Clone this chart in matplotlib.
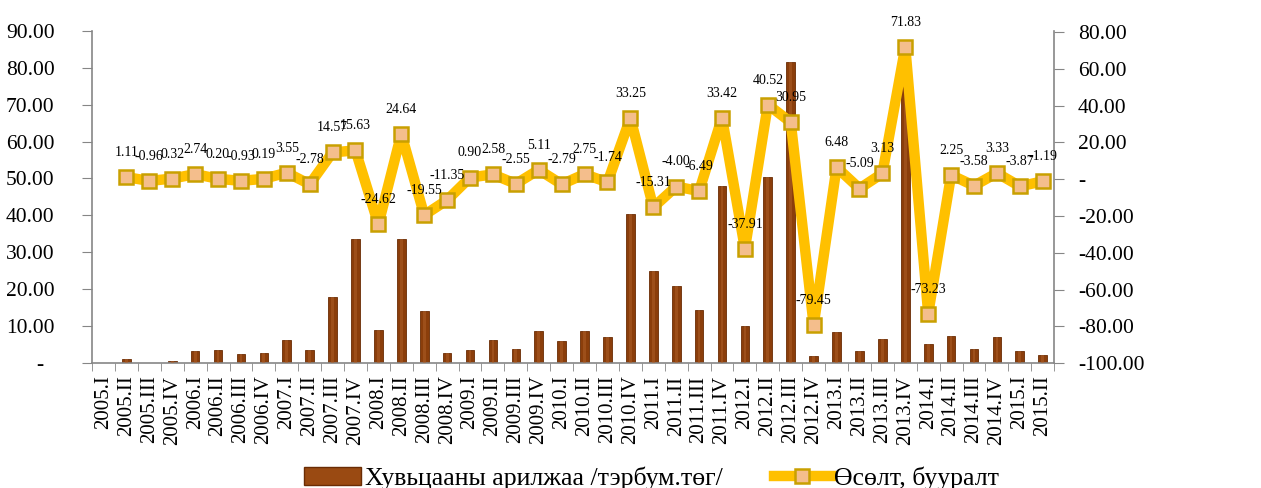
import numpy as np
import matplotlib.pyplot as plt
from matplotlib.ticker import FuncFormatter, FixedLocator
from matplotlib.lines import Line2D
from matplotlib.patches import Patch

plt.rcParams['font.family'] = ['Liberation Serif', 'DejaVu Serif']

quarters = ['2005.I', '2005.II', '2005.III', '2005.IV',
            '2006.I', '2006.II', '2006.III', '2006.IV',
            '2007.I', '2007.II', '2007.III', '2007.IV',
            '2008.I', '2008.II', '2008.III', '2008.IV',
            '2009.I', '2009.II', '2009.III', '2009.IV',
            '2010.I', '2010.II', '2010.III', '2010.IV',
            '2011.I', '2011.II', '2011.III', '2011.IV',
            '2012.I', '2012.II', '2012.III', '2012.IV',
            '2013.I', '2013.II', '2013.III', '2013.IV',
            '2014.I', '2014.II', '2014.III', '2014.IV',
            '2015.I', '2015.II']

# хувьцааны арилжаа, тэрбум төг
trade = [0.00, 1.11, 0.15, 0.47, 3.21, 3.41, 2.48, 2.67,
         6.22, 3.44, 18.01, 33.64, 9.02, 33.66, 14.11, 2.76,
         3.66, 6.24, 3.69, 8.80, 6.01, 8.76, 7.02, 40.27,
         24.96, 20.96, 14.47, 47.89, 9.98, 50.50, 81.45, 2.00,
         8.48, 3.39, 6.52, 78.35, 5.12, 7.37, 3.79, 7.12,
         3.25, 2.06]

# өсөлт, бууралт (2005.II-оос)
change = [np.nan, 1.11, -0.96, 0.32, 2.74, 0.20, -0.93, 0.19,
          3.55, -2.78, 14.57, 15.63, -24.62, 24.64, -19.55, -11.35,
          0.90, 2.58, -2.55, 5.11, -2.79, 2.75, -1.74, 33.25,
          -15.31, -4.00, -6.49, 33.42, -37.91, 40.52, 30.95, -79.45,
          6.48, -5.09, 3.13, 71.83, -73.23, 2.25, -3.58, 3.33,
          -3.87, -1.19]

bar_label = 'Хувьцааны арилжаа /тэрбум.төг/'
line_label = 'Өсөлт, бууралт'

x = np.arange(len(quarters))
gray = '#868686'


def fmt_left(v, pos):
    if abs(v) < 1e-9:
        return '-  '
    return '%.2f' % v


def fmt_right(v, pos):
    if abs(v) < 1e-9:
        return '-'
    return '%.2f' % v


fig = plt.figure(figsize=(12.61, 4.88), dpi=100)
ax = fig.add_axes([0.073, 0.256, 0.763, 0.681])

ax.bar(x, trade, width=0.38, color='#8B3E0B', edgecolor='#6A2C04', linewidth=0.6, zorder=2)
ax.bar(x, trade, width=0.12, color='#B0602A', linewidth=0, alpha=0.5, zorder=3)
ax.set_xlim(-0.5, len(quarters) - 0.5)
ax.set_ylim(0, 90)
ax.set_yticks(np.arange(0, 91, 10))
ax.yaxis.set_major_formatter(FuncFormatter(fmt_left))
ax.set_xticks(x)
ax.set_xticklabels(quarters, rotation=90, fontsize=15)
ax.xaxis.set_minor_locator(FixedLocator(np.arange(-0.5, len(quarters), 1)))
ax.tick_params(axis='x', which='major', length=0, pad=9)
ax.tick_params(axis='x', which='minor', length=6, color=gray, direction='out')
ax.tick_params(axis='y', labelsize=15.5, length=7, color=gray, direction='out', pad=20)
for s in ['top', 'right']:
    ax.spines[s].set_visible(False)
for s in ['left', 'bottom']:
    ax.spines[s].set_color(gray)
    ax.spines[s].set_linewidth(1.2)

ax2 = ax.twinx()
ax2.plot(x, change, color='#FFC000', linewidth=7.5, solid_joinstyle='round',
         marker='s', markersize=10.5, markerfacecolor='#F4BE8C',
         markeredgecolor='#C9A000', markeredgewidth=1.8, zorder=4)
ax2.set_ylim(-100, 80.7)
ax2.set_yticks(np.arange(-100, 81, 20))
ax2.yaxis.set_major_formatter(FuncFormatter(fmt_right))
ax2.tick_params(axis='y', labelsize=15.5, length=7, color=gray, direction='out', pad=10)
for s in ['top', 'left', 'bottom']:
    ax2.spines[s].set_visible(False)
ax2.spines['right'].set_color(gray)
ax2.spines['right'].set_linewidth(1.2)

for xi, v in zip(x, change):
    if np.isnan(v):
        continue
    ax2.annotate('%.2f' % v, (xi, v), xytext=(0, 13), textcoords='offset points',
                 ha='center', va='bottom', fontsize=10, zorder=6,
                 annotation_clip=False)

handles = [Patch(facecolor='#9A4A12', edgecolor='#6A2C04'),
           Line2D([0], [0], color='#FFC000', linewidth=7.5, marker='s', markersize=10.5,
                  markerfacecolor='#F4BE8C', markeredgecolor='#C9A000', markeredgewidth=1.8)]
fig.legend(handles, [bar_label, line_label], loc='center', bbox_to_anchor=(0.517, 0.019),
           ncol=2, frameon=False, fontsize=18.5, handlelength=2.2, handletextpad=0.15,
           columnspacing=2.0, borderpad=0)

fig.savefig('out.png', dpi=100)
